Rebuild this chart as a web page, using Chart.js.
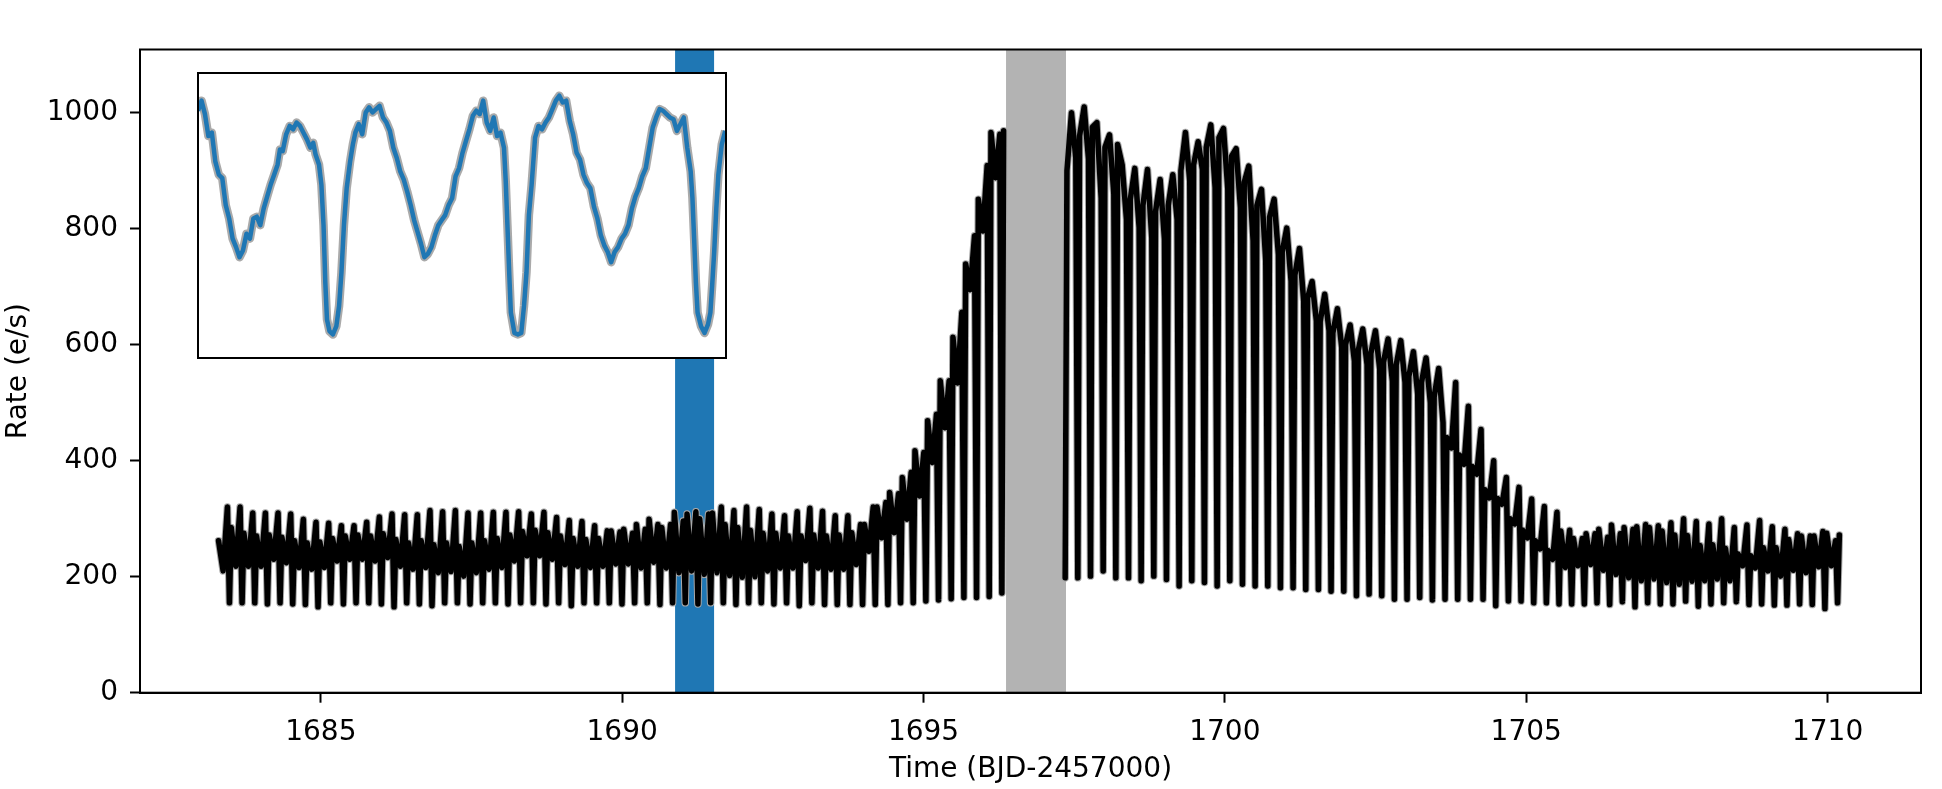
<!DOCTYPE html>
<html>
<head>
<meta charset="utf-8">
<script src="https://cdn.jsdelivr.net/npm/chart.js@4.4.0/dist/chart.umd.min.js"></script>
<style>
body { margin: 0; background: #fff; }
#wrap { position: relative; width: 1942px; height: 789px; }
#main { position: absolute; left: 0; top: 0; }
#inset { position: absolute; left: 197px; top: 72px; background: #fff; }
</style>
</head>
<body>
<div id="wrap">
<canvas id="main" width="1942" height="789"></canvas>
<canvas id="inset" width="530" height="287"></canvas>
</div>
<script>
// tiempos de cada eclipse (BJD-2457000), hueco de datos entre 1696.3 y 1697.35
var eclipseTime = [
    1683.274, 1683.484, 1683.694, 1683.904, 1684.114, 1684.324, 1684.534, 1684.744, 1684.954, 1685.164,
    1685.375, 1685.585, 1685.795, 1686.005, 1686.215, 1686.425, 1686.635, 1686.845, 1687.055, 1687.266,
    1687.476, 1687.686, 1687.896, 1688.106, 1688.316, 1688.526, 1688.736, 1688.946, 1689.156, 1689.367,
    1689.577, 1689.787, 1689.997, 1690.207, 1690.417, 1690.627, 1690.837, 1691.047, 1691.257, 1691.468,
    1691.678, 1691.888, 1692.098, 1692.308, 1692.518, 1692.728, 1692.938, 1693.148, 1693.358, 1693.569,
    1693.779, 1693.989, 1694.199, 1694.409, 1694.619, 1694.829, 1695.039, 1695.249, 1695.459, 1695.670,
    1695.880, 1696.090, 1696.300,
    1697.350, 1697.560, 1697.771, 1697.981, 1698.191, 1698.401, 1698.611, 1698.821, 1699.031, 1699.241,
    1699.451, 1699.661, 1699.872, 1700.082, 1700.292, 1700.502, 1700.712, 1700.922, 1701.132, 1701.342,
    1701.552, 1701.762, 1701.973, 1702.183, 1702.393, 1702.603, 1702.813, 1703.023, 1703.233, 1703.443,
    1703.653, 1703.863, 1704.074, 1704.284, 1704.494, 1704.704, 1704.914, 1705.124, 1705.334, 1705.544,
    1705.754, 1705.964, 1706.175, 1706.385, 1706.595, 1706.805, 1707.015, 1707.225, 1707.435, 1707.645,
    1707.855, 1708.065, 1708.276, 1708.486, 1708.696, 1708.906, 1709.116, 1709.326, 1709.536, 1709.746,
    1709.956, 1710.166
];

// minimo del eclipse (e/s)
var eclMin = [
    null,
    155, 155, 155, 153, 155, 153, 152, 148, 155, 153, 155, 155, 153, 148, 155, 153, 150, 155, 155, 153,
    155, 155, 153, 155, 155, 153, 155, 150, 155, 155,
    155, 153, 155, 155, 152, 155, 155, 153, 155, 155, 152, 155, 155, 153, 155, 150, 155, 152, 152,
    152, 152, 152, 152, 155, 155, 158, 160, 162, 164, 164, 166, 172,
    198, 198, 201, 210, 198, 198, 193, 201, 195, 184, 193, 190, 184, 193, 187, 184, 184,
    181, 181, 178, 178, 175, 175, 167, 170, 167, 161, 161, 164, 160, 161, 161, 161, 161, 150,
    158, 158, 155, 155, 153, 153, 153, 155, 152, 157, 148, 155, 153, 153, 158, 149, 153, 155, 157, 152,
    153, 151, 151, 153, 152, 145, 155
];

// joroba despues del eclipse
var humpA = [
    262,
    285, 275, 270, 272, 268, 262, 258, 260, 266, 270, 272, 270, 274, 264, 258, 262, 255, 258, 252, 258,
    262, 266, 272, 278, 280, 276, 270, 266, 264, 266,
    279, 282, 290, 299, 285, 311, 308, 300, 310, 290, 285, 280, 275, 275, 270, 270, 272, 270, 272,
    276, 290, 320, 345, 371, 417, 469, 538, 613, 739, 851, 966, 969,
    900, 960, 975, 940, 945, 850, 840, 830, 840, 900, 910, 940, 957, 925, 880, 840, 820,
    760, 720, 680, 640, 620, 600, 590, 585, 570, 565, 545, 535, 510, 440, 410, 390, 350, 335,
    300, 280, 262, 245, 279, 266, 274, 282, 289, 285, 286, 285, 279, 272, 271, 254, 255, 249, 239, 236,
    250, 250, 264, 270, 270, 275, 272
];

// nivel a mitad de ciclo
var midLevel = [
    210,
    218, 218, 218, 230, 224, 216, 213, 216, 227, 230, 230, 227, 233, 218, 213, 216, 207, 209, 201, 207,
    213, 216, 227, 236, 236, 230, 221, 218, 216, 218,
    222, 222, 215, 225, 215, 207, 210, 204, 207, 202, 199, 200, 210, 215, 215, 228, 215, 213, 213,
    221, 244, 267, 276, 299, 339, 397, 457, 534, 695, 796, 888, null,
    1000, 1010, 983, 962, 910, 904, 902, 885, 893, 966, 950, 979, 973, 938, 908, 868, 851,
    801, 766, 709, 687, 662, 634, 627, 624, 610, 607, 588, 577, 559, 422, 394, 377, 336, 325,
    291, 267, 248, 230, 216, 219, 221, 211, 204, 198, 193, 196, 190, 187, 192, 193, 196, 193, 219, 215,
    210, 201, 211, 207, 217, 219, null
];

// joroba antes del siguiente eclipse
var humpB = [
    320,
    320, 310, 310, 310, 308, 299, 294, 292, 288, 288, 294, 303, 308, 307, 307, 314, 312, 314, 310, 310,
    311, 311, 312, 308, 311, 302, 297, 295, 288, 279,
    277, 275, 282, 290, 290, 296, 312, 308, 320, 314, 320, 316, 308, 305, 312, 318, 313, 305, 305,
    290, 320, 328, 343, 380, 414, 480, 538, 656, 788, 909, 963, null,
    922, 920, 853, 860, 816, 802, 784, 782, 816, 882, 902, 871, 868, 836, 779, 744, 755,
    710, 675, 641, 624, 595, 572, 566, 558, 537, 535, 515, 500, 466, 535, 494, 454, 400, 371,
    354, 334, 321, 311, 280, 266, 274, 268, 274, 282, 290, 288, 293, 300, 295, 291, 300, 285, 289, 297,
    286, 282, 274, 270, 278, 262, null
];

// fase de cada punto dentro del ciclo orbital
var profilePhase = [0, 0.14, 0.5, 0.84];

var bandBlue = [1690.878, 1691.525];
var bandGray = [1696.369, 1697.364];

var xTicks = [1685, 1690, 1695, 1700, 1705, 1710];
var yTicks = [0, 200, 400, 600, 800, 1000];

// recuadro: zoom de la franja azul
var insetTime = [
    1690.8942, 1690.8981, 1690.9020, 1690.9059, 1690.9098, 1690.9137, 1690.9177, 1690.9216, 1690.9255, 1690.9294,
    1690.9333, 1690.9372, 1690.9411, 1690.9450, 1690.9490, 1690.9529, 1690.9568, 1690.9607, 1690.9646, 1690.9685,
    1690.9724, 1690.9763, 1690.9803, 1690.9842, 1690.9869, 1690.9900, 1690.9939, 1690.9979, 1691.0018, 1691.0057,
    1691.0096, 1691.0135, 1691.0174, 1691.0213, 1691.0245, 1691.0272, 1691.0311, 1691.0338, 1691.0362, 1691.0382,
    1691.0401, 1691.0429, 1691.0468, 1691.0507, 1691.0538, 1691.0565, 1691.0593, 1691.0624, 1691.0663, 1691.0694,
    1691.0722, 1691.0761, 1691.0800, 1691.0839, 1691.0878, 1691.0917, 1691.0956, 1691.0996, 1691.1035, 1691.1074,
    1691.1113, 1691.1152, 1691.1191, 1691.1230, 1691.1270, 1691.1309, 1691.1348, 1691.1387, 1691.1426, 1691.1465,
    1691.1504, 1691.1543, 1691.1583, 1691.1622, 1691.1661, 1691.1700, 1691.1739, 1691.1778, 1691.1817, 1691.1856,
    1691.1896, 1691.1935, 1691.1974, 1691.2013, 1691.2052, 1691.2091, 1691.2130, 1691.2169, 1691.2209, 1691.2248,
    1691.2287, 1691.2326, 1691.2365, 1691.2404, 1691.2424, 1691.2443, 1691.2463, 1691.2482, 1691.2522, 1691.2561,
    1691.2600, 1691.2631, 1691.2659, 1691.2686, 1691.2717, 1691.2756, 1691.2795, 1691.2835, 1691.2874, 1691.2913,
    1691.2952, 1691.2991, 1691.3030, 1691.3069, 1691.3108, 1691.3148, 1691.3187, 1691.3226, 1691.3265, 1691.3304,
    1691.3343, 1691.3382, 1691.3422, 1691.3461, 1691.3500, 1691.3539, 1691.3578, 1691.3617, 1691.3656, 1691.3695,
    1691.3735, 1691.3774, 1691.3813, 1691.3852, 1691.3891, 1691.3930, 1691.3969, 1691.4009, 1691.4048, 1691.4087,
    1691.4126, 1691.4165, 1691.4204, 1691.4243, 1691.4282, 1691.4322, 1691.4361, 1691.4400, 1691.4439, 1691.4478,
    1691.4517, 1691.4537, 1691.4556, 1691.4576, 1691.4595, 1691.4634, 1691.4674, 1691.4713, 1691.4740, 1691.4760,
    1691.4783, 1691.4807, 1691.4830, 1691.4869, 1691.4908
];
var insetRate = [
    293.7, 300.0, 291.6, 277.9, 280.0, 262.1, 253.7, 251.6, 234.8, 226.4,
    213.8, 208.5, 202.2, 206.4, 216.9, 213.8, 226.4, 227.5, 222.2, 232.7,
    240.1, 247.4, 253.7, 260.0, 269.5, 268.5, 279.0, 284.2, 282.1, 286.3,
    284.2, 280.0, 275.8, 270.6, 273.7, 266.4, 260.0, 247.4, 222.2, 186.5,
    163.3, 156.0, 153.9, 159.1, 171.8, 192.8, 222.2, 245.3, 262.1, 272.7,
    280.0, 285.3, 279.0, 292.6, 295.8, 292.6, 294.7, 296.8, 289.5, 286.3,
    281.1, 270.6, 264.2, 255.8, 250.6, 243.2, 234.8, 225.4, 218.0, 210.6,
    202.2, 204.3, 208.5, 215.9, 222.2, 225.4, 228.5, 234.8, 239.0, 252.7,
    257.9, 267.4, 274.8, 282.1, 290.5, 293.7, 291.6, 300.0, 286.3, 281.1,
    289.5, 277.9, 280.0, 270.6, 249.5, 222.2, 192.8, 167.6, 154.9, 153.9,
    154.9, 171.8, 192.8, 228.5, 247.4, 276.9, 284.2, 282.1, 286.3, 289.5,
    294.7, 300.0, 303.1, 298.9, 300.0, 287.4, 279.0, 267.4, 263.2, 253.7,
    248.5, 245.3, 233.8, 226.4, 215.9, 209.6, 205.4, 199.1, 205.4, 208.5,
    213.8, 216.9, 222.2, 232.7, 240.1, 245.3, 252.7, 257.9, 270.6, 283.2,
    289.5, 294.7, 293.7, 291.6, 289.5, 288.4, 281.1, 285.3, 289.5, 270.6,
    255.8, 239.0, 213.8, 186.5, 167.6, 159.1, 154.9, 160.2, 167.6, 184.4,
    205.4, 232.7, 253.7, 272.7, 281.1
];

Chart.defaults.font.family = "'DejaVu Sans', sans-serif";
Chart.defaults.font.size = 28;
Chart.defaults.color = '#000';

// armamos la curva de luz ciclo por ciclo
var lightCurve = [];
for (var i = 0; i < eclipseTime.length; i++) {
    var t = eclipseTime[i];
    var span = (i + 1 < eclipseTime.length) ? eclipseTime[i + 1] - t : t - eclipseTime[i - 1];
    var gap = span > 0.5;
    if (gap) {
        span = t - eclipseTime[i - 1];
    }
    var vals = [eclMin[i], humpA[i], midLevel[i], humpB[i]];
    for (var k = 0; k < vals.length; k++) {
        if (vals[k] !== null) {
            lightCurve.push({x: t + profilePhase[k] * span, y: vals[k]});
        }
    }
    if (gap) {
        lightCurve.push({x: t + span, y: null});
    }
}

var insetPoints = insetTime.map(function (v, j) {
    return {x: v, y: insetRate[j]};
});

var bandas = {
    id: 'bandas',
    beforeDatasetsDraw: function (chart) {
        var ctx = chart.ctx, a = chart.chartArea, sx = chart.scales.x;
        ctx.save();
        ctx.fillStyle = '#1f77b4';
        var b0 = sx.getPixelForValue(bandBlue[0]), b1 = sx.getPixelForValue(bandBlue[1]);
        ctx.fillRect(b0, a.top, b1 - b0, a.bottom - a.top);
        ctx.fillStyle = '#b3b3b3';
        var g0 = sx.getPixelForValue(bandGray[0]), g1 = sx.getPixelForValue(bandGray[1]);
        ctx.fillRect(g0, a.top, g1 - g0, a.bottom - a.top);
        ctx.restore();
    }
};

var marco = {
    id: 'marco',
    afterDraw: function (chart) {
        var ctx = chart.ctx, a = chart.chartArea;
        ctx.save();
        ctx.strokeStyle = '#000';
        ctx.lineWidth = 2;
        ctx.strokeRect(a.left, a.top, a.right - a.left, a.bottom - a.top);
        ctx.restore();
    }
};

var ejeComun = {
    grid: {drawOnChartArea: false, drawTicks: true, tickLength: 10, tickWidth: 2, tickColor: '#000', color: '#000'},
    border: {display: true, color: '#000', width: 2}
};

new Chart(document.getElementById('main').getContext('2d'), {
    type: 'line',
    data: {
        datasets: [{
                data: lightCurve,
                borderColor: '#000',
                borderWidth: 5.5,
                borderJoinStyle: 'round',
                borderCapStyle: 'round',
                pointRadius: 0,
                tension: 0,
                spanGaps: false,
                order: 1
            }, {
                data: lightCurve,
                borderColor: '#a8a8a8',
                borderWidth: 7.5,
                borderJoinStyle: 'round',
                borderCapStyle: 'round',
                pointRadius: 0,
                tension: 0,
                spanGaps: false,
                order: 2
            }]
    },
    options: {
        responsive: false,
        devicePixelRatio: 1,
        animation: false,
        layout: {padding: {left: 0, right: 21, top: 49.5, bottom: 0}},
        plugins: {legend: {display: false}, tooltip: {enabled: false}},
        scales: {
            x: {
                type: 'linear',
                min: 1682.0,
                max: 1711.55,
                afterBuildTicks: function (axis) {
                    axis.ticks = xTicks.map(function (v) { return {value: v}; });
                },
                afterFit: function (axis) { axis.height = 96.3; },
                ticks: {padding: 13, maxRotation: 0, autoSkip: false, callback: function (value) { return String(value); }},
                grid: ejeComun.grid,
                border: ejeComun.border,
                title: {display: true, text: 'Time (BJD-2457000)', padding: {top: 0, bottom: 2.5}}
            },
            y: {
                min: 0,
                max: 1109,
                afterBuildTicks: function (axis) {
                    axis.ticks = yTicks.map(function (v) { return {value: v}; });
                },
                afterFit: function (axis) { axis.width = 140; },
                ticks: {padding: 12, callback: function (value) { return String(value); }},
                grid: ejeComun.grid,
                border: ejeComun.border,
                title: {display: true, text: 'Rate (e/s)', padding: {top: 2, bottom: 0}}
            }
        }
    },
    plugins: [bandas, marco]
});

// recuadro con el detalle
var marcoInset = {
    id: 'marcoInset',
    afterDraw: function (chart) {
        var ctx = chart.ctx;
        ctx.save();
        ctx.strokeStyle = '#000';
        ctx.lineWidth = 2;
        ctx.strokeRect(1, 1, chart.width - 2, chart.height - 2);
        ctx.restore();
    }
};

new Chart(document.getElementById('inset').getContext('2d'), {
    type: 'line',
    data: {
        datasets: [{
                data: insetPoints,
                borderColor: '#1f77b4',
                borderWidth: 4.5,
                borderJoinStyle: 'round',
                pointRadius: 0,
                tension: 0,
                order: 1
            }, {
                data: insetPoints,
                borderColor: '#aaaaaa',
                borderWidth: 8.5,
                borderJoinStyle: 'round',
                pointRadius: 0,
                tension: 0,
                order: 2
            }]
    },
    options: {
        responsive: false,
        devicePixelRatio: 1,
        animation: false,
        layout: {padding: 0},
        plugins: {legend: {display: false}, tooltip: {enabled: false}},
        scales: {
            x: {type: 'linear', display: false, min: 1690.893, max: 1691.4928},
            y: {display: false, min: 138.6, max: 317.9}
        }
    },
    plugins: [marcoInset]
});
</script>
</body>
</html>
